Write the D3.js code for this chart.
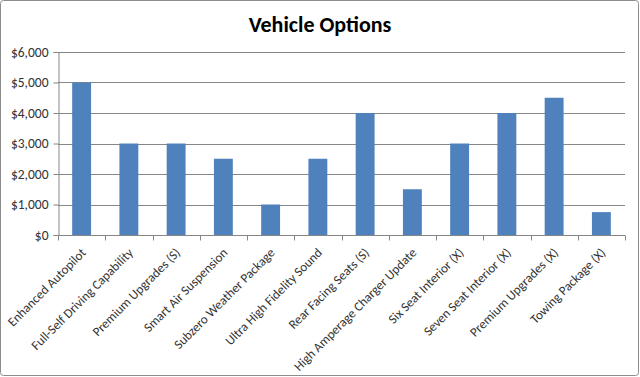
<!DOCTYPE html>
<html>
<head>
<meta charset="utf-8">
<script src="https://cdn.jsdelivr.net/npm/d3@7"></script>
<style>
  body { margin: 0; background: #fff; }
  svg { display: block; }
</style>
</head>
<body>
<svg id="chart" width="640" height="377"></svg>
<script>
const categories = [
  "Enhanced Autopilot",
  "Full-Self Driving Capability",
  "Premium Upgrades (S)",
  "Smart Air Suspension",
  "Subzero Weather Package",
  "Ultra High Fidelity Sound",
  "Rear Facing Seats (S)",
  "High Amperage Charger Update",
  "Six Seat Interior (X)",
  "Seven Seat Interior (X)",
  "Premium Upgrades (X)",
  "Towing Package (X)",
];
const prices = [5000, 3000, 3000, 2500, 1000, 2500, 4000, 1500, 3000, 4000, 4500, 750];
const yTicks = [0, 1000, 2000, 3000, 4000, 5000, 6000];

const margin = { top: 52, right: 15, bottom: 142, left: 58 };
const width = 640 - margin.left - margin.right;
const height = 377 - margin.top - margin.bottom;
const font = "Carlito, 'Open Sans', Calibri, sans-serif";

const svg = d3.select("#chart");

// outer border
svg.append("rect")
  .attr("x", 0.5).attr("y", 0.5)
  .attr("width", 638).attr("height", 375)
  .attr("rx", 3)
  .attr("fill", "#fff")
  .attr("stroke", "#8c8c8c");

svg.append("text")
  .attr("x", 320).attr("y", 32)
  .attr("text-anchor", "middle")
  .attr("font-family", font)
  .attr("font-weight", "bold")
  .attr("font-size", 22)
  .attr("fill", "#000")
  .text("Vehicle Options");

const g = svg.append("g").attr("transform", `translate(${margin.left},${margin.top})`);

const x = d3.scaleBand().domain(categories).range([0, width]).paddingInner(0.6).paddingOuter(0.3);
const xEdge = d3.scaleLinear().domain([0, categories.length]).range([0, width]);
const y = d3.scaleLinear().domain([0, 6000]).range([height, 0]);

// gridlines
g.append("g")
  .selectAll("line")
  .data(yTicks.slice(1))
  .join("line")
  .attr("x1", 0).attr("x2", width)
  .attr("y1", (d) => Math.round(y(d)) + 0.5)
  .attr("y2", (d) => Math.round(y(d)) + 0.5)
  .attr("stroke", "#868686");

// y axis
const yAxis = g.append("g")
  .attr("transform", "translate(0.5,0)")
  .call(d3.axisLeft(y).tickValues(yTicks).tickSize(5).tickFormat((d) => "$" + d3.format(",")(d)));
yAxis.select(".domain").attr("stroke", "#868686");
yAxis.selectAll(".tick line").attr("stroke", "#868686");
yAxis.selectAll(".tick text")
  .attr("font-family", font)
  .attr("font-size", 13.5)
  .attr("fill", "#333")
  .attr("x", -10);

// bars
g.append("g")
  .selectAll("rect")
  .data(prices)
  .join("rect")
  .attr("x", (d, i) => x(categories[i]))
  .attr("width", x.bandwidth())
  .attr("y", (d) => y(d))
  .attr("height", (d) => height - y(d))
  .attr("fill", "#4f81bd");

// x axis line and category separator ticks
const xa = g.append("g").attr("transform", `translate(0,${Math.round(height) + 0.5})`);
xa.append("line").attr("x1", 0).attr("x2", width).attr("stroke", "#868686");
xa.selectAll("line.tk")
  .data(d3.range(categories.length + 1))
  .join("line")
  .attr("class", "tk")
  .attr("x1", (d) => Math.round(xEdge(d)) + 0.5)
  .attr("x2", (d) => Math.round(xEdge(d)) + 0.5)
  .attr("y1", 0).attr("y2", 5)
  .attr("stroke", "#868686");

xa.selectAll("text")
  .data(categories)
  .join("text")
  .attr("transform", (d) => `translate(${x(d) + x.bandwidth() / 2 + 5},18) rotate(-45)`)
  .attr("text-anchor", "end")
  .attr("font-family", font)
  .attr("font-size", 13)
  .attr("fill", "#333")
  .text((d) => d);
</script>
</body>
</html>
